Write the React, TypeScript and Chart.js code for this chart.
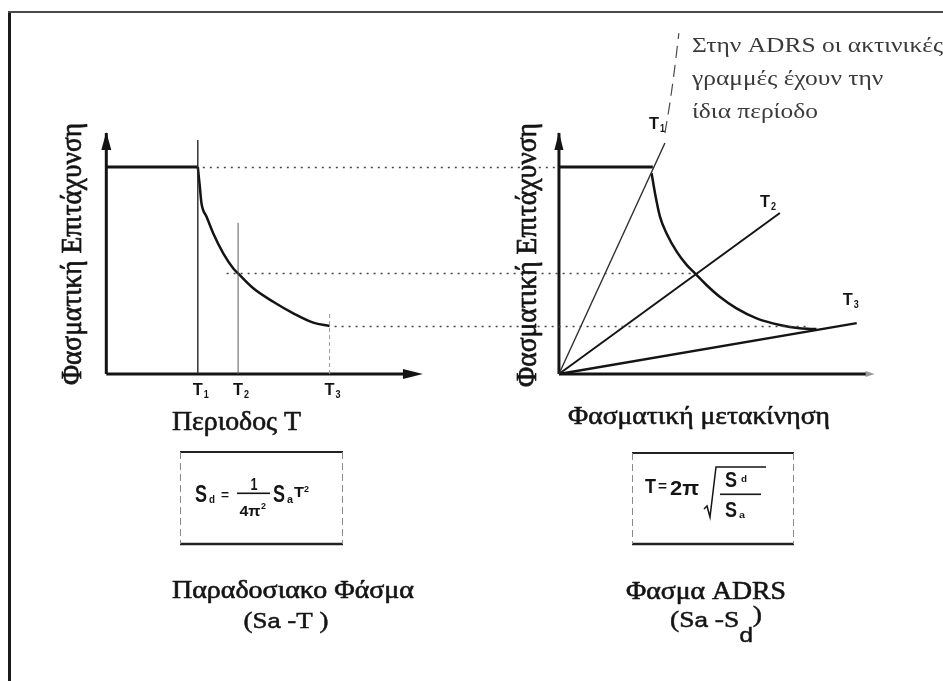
import { useEffect, useRef } from "react";
import { Chart, registerables } from "chart.js";

Chart.register(...registerables);

const W = 943;
const H = 681;

// Periods T1, T2, T3 (s) and spectral acceleration reached at each (g)
const PERIODS = [0.5, 0.72, 1.22];
const PERIOD_TAGS = ["1", "2", "3"];
const SA_AT_PERIOD = [1.0, 0.486, 0.232];
const SA_PLATEAU = 1.0;

// Sa–T spectrum, descending branch from T1 onwards
const SPECTRUM_T = [0.5, 0.511, 0.52, 0.548, 0.584, 0.639, 0.693, 0.72, 0.803, 0.912, 1.022, 1.131, 1.22];
const SPECTRUM_SA = [1.0, 0.905, 0.825, 0.76, 0.68, 0.583, 0.511, 0.486, 0.414, 0.349, 0.293, 0.248, 0.232];

// top of the thin period markers on the Sa–T plot (g)
const MARKER_TOP = [1.13, 0.73, 0.304];

// ADRS curve, Sd in cm
const ADRS_SD = [2.99, 3.1, 3.26, 3.47, 3.8, 4.12, 4.39, 4.76, 5.19, 5.73, 6.38, 7.13, 7.77, 8.31];
const ADRS_SA = [0.97, 0.873, 0.76, 0.68, 0.591, 0.527, 0.486, 0.43, 0.373, 0.317, 0.269, 0.237, 0.221, 0.217];
const ADRS_PLATEAU_END = 3.03;

// radial constant-period lines, drawn from the origin to these ends
const RADIAL_SD = [3.42, 7.13, 9.61];
const RADIAL_SA = [1.116, 0.778, 0.246];
const RADIAL_WIDTH = [1.4, 2, 2.4];

// leader from the T1 line up to the note
const LEADER_SD = [3.42, 3.58, 3.74, 3.87];
const LEADER_SA = [1.164, 1.309, 1.483, 1.647];

// dotted guides joining equal Sa levels of both plots
const GUIDE_FROM_T = [0.5, 0.63, 1.22];
const GUIDE_TO_SD = [0, 4.39, 8.2];

const AXIS_T_END = 1.73;
const AXIS_SD_END = 10.19;
const AXIS_SA_END = 1.164;

const SERIF = '"Liberation Serif", "Times New Roman", serif';
const SANS = '"Liberation Sans", Arial, sans-serif';
const INK = "#141414";

type Ctx = CanvasRenderingContext2D;

function fitText(
  ctx: Ctx,
  text: string,
  x: number,
  y: number,
  font: string,
  width: number,
  align: "left" | "center" = "left",
  heavy = 0
) {
  ctx.font = font;
  const w = ctx.measureText(text).width;
  const k = width > 0 ? width / w : 1;
  ctx.save();
  ctx.translate(x, y);
  ctx.scale(k, 1);
  ctx.textAlign = "left";
  ctx.textBaseline = "alphabetic";
  const x0 = align === "center" ? -w / 2 : 0;
  ctx.fillText(text, x0, 0);
  if (heavy > 0) {
    ctx.strokeStyle = ctx.fillStyle as string;
    ctx.lineWidth = heavy;
    ctx.lineJoin = "round";
    ctx.strokeText(text, x0, 0);
  }
  ctx.restore();
}

function verticalText(ctx: Ctx, text: string, baseX: number, centerY: number, font: string, length: number) {
  ctx.save();
  ctx.translate(baseX, centerY);
  ctx.rotate(-Math.PI / 2);
  fitText(ctx, text, 0, 0, font, length, "center", 0.7);
  ctx.restore();
}

type Run = { t: string; font: string; dy?: number };

function drawRuns(ctx: Ctx, runs: Run[], cx: number, y: number, width: number) {
  let total = 0;
  const ws = runs.map((r) => {
    ctx.font = r.font;
    const w = ctx.measureText(r.t).width;
    total += w;
    return w;
  });
  const k = width / total;
  ctx.save();
  ctx.translate(cx - width / 2, y);
  ctx.scale(k, 1);
  ctx.textBaseline = "alphabetic";
  ctx.textAlign = "left";
  ctx.strokeStyle = ctx.fillStyle as string;
  ctx.lineWidth = 0.5;
  let x = 0;
  runs.forEach((r, i) => {
    ctx.font = r.font;
    ctx.fillText(r.t, x, r.dy || 0);
    ctx.strokeText(r.t, x, r.dy || 0);
    x += ws[i];
  });
  ctx.restore();
}

function arrowHead(ctx: Ctx, tipX: number, tipY: number, dx: number, dy: number, len: number, half: number, color: string) {
  const bx = tipX - dx * len;
  const by = tipY - dy * len;
  const nx = -dy;
  const ny = dx;
  ctx.beginPath();
  ctx.moveTo(tipX, tipY);
  ctx.lineTo(bx + nx * half, by + ny * half);
  ctx.lineTo(bx - nx * half, by - ny * half);
  ctx.closePath();
  ctx.fillStyle = color;
  ctx.fill();
}

function periodTag(ctx: Ctx, x: number, y: number, tag: string) {
  ctx.fillStyle = INK;
  fitText(ctx, "T", x, y, `bold 17px ${SANS}`, 10);
  fitText(ctx, tag, x + 11, y + 3, `bold 10px ${SANS}`, 5);
}

function formulaBox(ctx: Ctx, x0: number, y0: number, x1: number, y1: number) {
  ctx.save();
  ctx.strokeStyle = "#222";
  ctx.lineWidth = 2;
  ctx.beginPath();
  ctx.moveTo(x0, y0);
  ctx.lineTo(x1, y0);
  ctx.stroke();
  ctx.lineWidth = 2.5;
  ctx.beginPath();
  ctx.moveTo(x0, y1);
  ctx.lineTo(x1, y1);
  ctx.stroke();
  ctx.strokeStyle = "#8a8a8a";
  ctx.lineWidth = 1;
  ctx.setLineDash([7, 4]);
  ctx.beginPath();
  ctx.moveTo(x0 + 0.5, y0);
  ctx.lineTo(x0 + 0.5, y1);
  ctx.moveTo(x1 - 0.5, y0);
  ctx.lineTo(x1 - 0.5, y1);
  ctx.stroke();
  ctx.restore();
}

const figurePlugin = {
  id: "figure",
  afterDatasetsDraw(chart: any) {
    const ctx: Ctx = chart.ctx;
    const xT = chart.scales.xT;
    const xS = chart.scales.xSd;
    const y = chart.scales.y;
    ctx.save();

    // dotted guides between the two plots
    ctx.setLineDash([2, 5]);
    ctx.lineWidth = 1.6;
    ctx.strokeStyle = "#454545";
    SA_AT_PERIOD.forEach((sa, i) => {
      const py = Math.round(y.getPixelForValue(sa)) + 0.5;
      ctx.beginPath();
      ctx.moveTo(xT.getPixelForValue(GUIDE_FROM_T[i]) + 5, py);
      ctx.lineTo(xS.getPixelForValue(GUIDE_TO_SD[i]) - 3, py);
      ctx.stroke();
    });
    ctx.setLineDash([]);

    // axis arrowheads
    const oT = xT.getPixelForValue(0);
    const oS = xS.getPixelForValue(0);
    const o = y.getPixelForValue(0);
    const top = y.getPixelForValue(AXIS_SA_END);
    arrowHead(ctx, oT, top - 1, 0, -1, 18, 5, INK);
    arrowHead(ctx, xT.getPixelForValue(AXIS_T_END), o, 1, 0, 20, 5, INK);
    arrowHead(ctx, oS, top - 1, 0, -1, 18, 4.5, INK);
    arrowHead(ctx, xS.getPixelForValue(AXIS_SD_END), o, 1, 0, 9, 3, "#9a9a9a");

    // period tags
    PERIODS.forEach((t, i) => {
      periodTag(ctx, xT.getPixelForValue(t) - 5, o + 21, PERIOD_TAGS[i]);
    });
    const tagOffset = [
      [-16, -14],
      [-20, -6],
      [-14, -18],
    ];
    RADIAL_SD.forEach((sd, i) => {
      periodTag(
        ctx,
        xS.getPixelForValue(sd) + tagOffset[i][0],
        y.getPixelForValue(RADIAL_SA[i]) + tagOffset[i][1],
        PERIOD_TAGS[i]
      );
    });
    ctx.restore();
  },
  afterDraw(chart: any) {
    const ctx: Ctx = chart.ctx;
    ctx.save();

    // page frame
    ctx.fillStyle = "#1a1a1a";
    ctx.fillRect(8, 12, 3, H - 12);
    ctx.fillStyle = "#4a4a4a";
    ctx.fillRect(8, 11, W - 8, 2);
    ctx.fillStyle = INK;

    // axis titles
    verticalText(ctx, "Φασματική Επιτάχυνση", 81, 254, `29px ${SERIF}`, 262);
    verticalText(ctx, "Φασματική Επιτάχυνση", 536, 255, `29px ${SERIF}`, 264);
    fitText(ctx, "Περιοδος T", 172, 430, `27px ${SERIF}`, 129, "left", 0.6);
    fitText(ctx, "Φασματική μετακίνηση", 568, 424, `26px ${SERIF}`, 262, "left", 0.6);

    // note
    ctx.fillStyle = "#3a3a3a";
    ctx.font = `22px ${SERIF}`;
    const l1 = "Στην ADRS οι ακτινικές";
    const k = 251 / ctx.measureText(l1).width;
    fitText(ctx, l1, 692, 52, `22px ${SERIF}`, 251);
    ctx.font = `22px ${SERIF}`;
    const l2 = "γραμμές έχουν την";
    fitText(ctx, l2, 692, 85, `22px ${SERIF}`, ctx.measureText(l2).width * k);
    ctx.font = `22px ${SERIF}`;
    const l3 = "ίδια περίοδο";
    fitText(ctx, l3, 692, 118, `22px ${SERIF}`, ctx.measureText(l3).width * k);
    ctx.fillStyle = INK;

    // formula boxes
    formulaBox(ctx, 180, 452, 343, 544);
    formulaBox(ctx, 632, 453, 794, 544);

    // Sd = Sa T² / 4π²
    const B = (s: number) => `bold ${s}px ${SANS}`;
    fitText(ctx, "S", 195, 502, B(24), 12);
    fitText(ctx, "d", 209, 503, B(10), 6);
    fitText(ctx, "=", 221, 499, B(13), 8);
    fitText(ctx, "1", 254, 490, B(16), 7, "center");
    ctx.fillRect(237, 492.5, 33, 1.6);
    fitText(ctx, "4π", 250, 516, B(15), 21, "center");
    fitText(ctx, "2", 261, 509, B(9), 5);
    fitText(ctx, "S", 273, 502, B(24), 12);
    fitText(ctx, "a", 287, 503, B(10), 6);
    fitText(ctx, "T", 294, 497, B(15), 10);
    fitText(ctx, "2", 304, 492, B(9), 5);

    // T = 2π √(Sd / Sa)
    fitText(ctx, "T", 645, 493, B(21), 11);
    fitText(ctx, "=", 658, 491, B(15), 9);
    fitText(ctx, "2π", 670, 495, B(21), 29);
    ctx.strokeStyle = INK;
    ctx.lineWidth = 1.5;
    ctx.beginPath();
    ctx.moveTo(704, 509);
    ctx.lineTo(707, 506);
    ctx.lineTo(710, 517);
    ctx.lineTo(716, 467);
    ctx.lineTo(766, 467);
    ctx.stroke();
    fitText(ctx, "S", 725, 487, B(22), 12);
    fitText(ctx, "d", 741, 482, B(9), 6);
    ctx.fillRect(720, 493.5, 41, 1.6);
    fitText(ctx, "S", 725, 517, B(22), 12);
    fitText(ctx, "a", 739, 518, B(9), 6);

    // captions
    fitText(ctx, "Παραδοσιακο Φάσμα", 293, 598, `25px ${SERIF}`, 242, "center", 0.6);
    drawRuns(
      ctx,
      [
        { t: "(S", font: `24px ${SERIF}` },
        { t: "a", font: `21px ${SANS}` },
        { t: " -T )", font: `24px ${SERIF}` },
      ],
      286,
      628,
      85
    );
    fitText(ctx, "Φασμα ADRS", 706, 599, `25px ${SERIF}`, 160, "center", 0.6);
    drawRuns(
      ctx,
      [
        { t: "(S", font: `24px ${SERIF}` },
        { t: "a", font: `21px ${SANS}` },
        { t: " -S", font: `24px ${SERIF}` },
        { t: "d", font: `21px ${SANS}`, dy: 15 },
        { t: ")", font: `24px ${SERIF}`, dy: -5 },
      ],
      716,
      627,
      92
    );
    ctx.restore();
  },
};

function pts(xs: number[], ys: number[]) {
  return xs.map((x, i) => ({ x, y: ys[i] }));
}

function line(axis: "xT" | "xSd", xs: number[], ys: number[], width: number, color: string, extra: any = {}) {
  return {
    data: pts(xs, ys),
    xAxisID: axis,
    yAxisID: "y",
    showLine: true,
    borderColor: color,
    backgroundColor: color,
    borderWidth: width,
    pointRadius: 0,
    pointHoverRadius: 0,
    clip: false,
    fill: false,
    ...extra,
  };
}

export default function App() {
  const ref = useRef<HTMLCanvasElement>(null);

  useEffect(() => {
    const canvas = ref.current;
    if (!canvas) return;

    const curve = { cubicInterpolationMode: "monotone" };
    const datasets = [
      // Sa–T plot
      line("xT", [PERIODS[0], PERIODS[0]], [0, MARKER_TOP[0]], 1.4, "#262626"),
      line("xT", [PERIODS[1], PERIODS[1]], [0, MARKER_TOP[1]], 1, "#5c5c5c"),
      line("xT", [PERIODS[2], PERIODS[2]], [0, MARKER_TOP[2]], 1, "#9a9a9a", { borderDash: [4, 3] }),
      line("xT", [0, 0], [0, AXIS_SA_END], 3, INK),
      line("xT", [0, AXIS_T_END - 0.05], [0, 0], 3, INK),
      line("xT", [0, PERIODS[0]], [SA_PLATEAU, SA_PLATEAU], 3, INK),
      line("xT", SPECTRUM_T, SPECTRUM_SA, 2.5, INK, curve),
      // ADRS plot
      ...RADIAL_SD.map((sd, i) => line("xSd", [0, sd], [0, RADIAL_SA[i]], RADIAL_WIDTH[i], i === 0 ? "#2e2e2e" : INK)),
      line("xSd", LEADER_SD, LEADER_SA, 1.2, "#4a4a4a", { borderDash: [12, 7], ...curve }),
      line("xSd", [0, 0], [0, AXIS_SA_END], 3, INK),
      line("xSd", [0, AXIS_SD_END - 0.2], [0, 0], 3, INK),
      line("xSd", [0, ADRS_PLATEAU_END], [SA_PLATEAU, SA_PLATEAU], 3, INK),
      line("xSd", ADRS_SD, ADRS_SA, 2.5, INK, curve),
    ];

    const chart = new Chart(canvas, {
      type: "scatter",
      data: { datasets } as any,
      options: {
        responsive: false,
        animation: false,
        devicePixelRatio: 1,
        events: [],
        layout: { padding: { left: 88, right: 68, top: 125.6, bottom: 307 } },
        plugins: {
          legend: { display: false },
          title: { display: false },
          tooltip: { enabled: false },
        },
        scales: {
          xT: { type: "linear", position: "bottom", min: -0.1, max: 4.2, display: false },
          xSd: { type: "linear", position: "bottom", min: -15.2, max: 10.2, display: false },
          y: { type: "linear", min: 0, max: 1.2, display: false },
        },
      } as any,
      plugins: [figurePlugin],
    });

    return () => chart.destroy();
  }, []);

  return (
    <div style={{ position: "fixed", left: 0, top: 0, width: W, height: H, background: "#ffffff" }}>
      <canvas ref={ref} width={W} height={H} style={{ display: "block" }} />
    </div>
  );
}
